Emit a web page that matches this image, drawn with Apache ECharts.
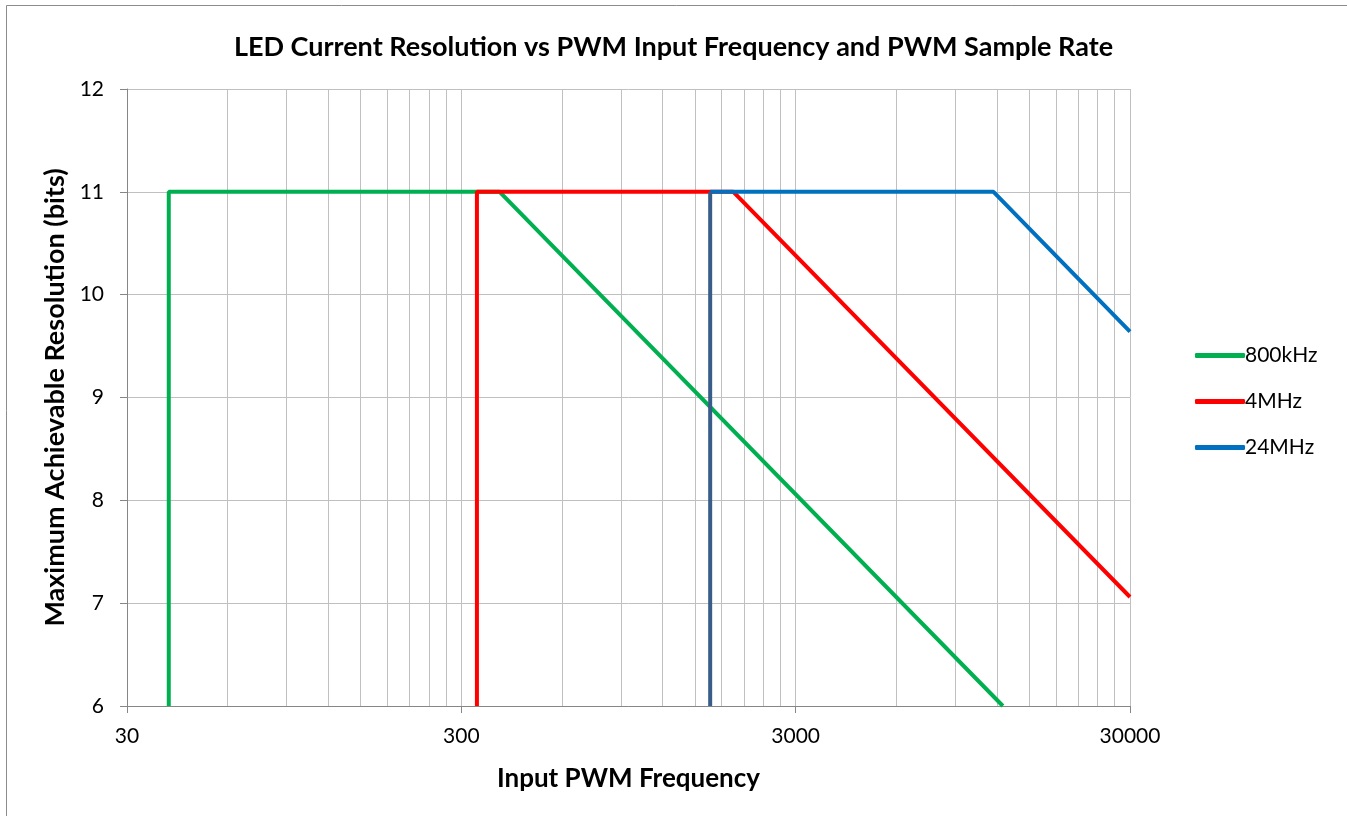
<!DOCTYPE html>
<html>
<head>
<meta charset="utf-8">
<script src="https://cdn.jsdelivr.net/npm/echarts@6/dist/echarts.min.js"></script>
<style>
  html, body { margin: 0; padding: 0; background: #fff; }
  #chart { width: 1347px; height: 816px; }
</style>
</head>
<body>
<div id="chart"></div>
<script>
// values
const xLabels = [30, 300, 3000, 30000];
const gridSteps = [1, 2, 3, 4, 5, 6, 7, 8, 9]; // minor grid multiples of each decade start

const green800k = [[40, 6], [40, 11], [390.6, 11], [12500, 6]];
const red4M = [[334, 6], [334, 11], [1953, 11], [30000, 7.06]];
const blue24M = [[1665, 11], [11719, 11], [30000, 9.64]];
const blueVertical = [[1665, 6], [1665, 11]];

const gridValues = [];
xLabels.forEach((start, i) => {
  if (i === xLabels.length - 1) { gridValues.push(start); return; }
  gridSteps.forEach((k) => gridValues.push(start * k));
});

const font = 'Lato, "Open Sans", sans-serif';
const gridColor = '#c0c0c0';
const axisColor = '#868686';

const chart = echarts.init(document.getElementById('chart'));

const lineSerie = (name, data, color) => ({
  name,
  type: 'line',
  data,
  xAxisIndex: 0,
  showSymbol: false,
  symbol: 'none',
  lineStyle: { width: 4, color },
  itemStyle: { color }
});

const chartOptions = {
  animation: false,
  textStyle: { fontFamily: font },
  title: {
    text: 'LED Current Resolution vs PWM Input Frequency and PWM Sample Rate',
    left: 'center',
    top: 29,
    textStyle: { fontFamily: font, fontSize: 27, fontWeight: 'bold', color: '#000' }
  },
  grid: { left: 127, right: 217, top: 89, bottom: 110 },
  legend: {
    orient: 'vertical',
    left: 1190,
    top: 340,
    itemWidth: 50,
    itemHeight: 5,
    itemGap: 25,
    icon: 'roundRect',
    data: ['800kHz', '4MHz', '24MHz'],
    textStyle: { fontFamily: font, fontSize: 21, color: '#000', padding: [0, 0, 0, -5] }
  },
  xAxis: [
    {
      type: 'log',
      logBase: 10,
      min: 30,
      max: 30000,
      axisLine: { show: false },
      axisTick: { show: false, customValues: gridValues },
      axisLabel: { show: false },
      splitLine: { show: true, lineStyle: { color: gridColor, width: 1 } }
    },
    {
      type: 'log',
      logBase: 10,
      min: 30,
      max: 30000,
      position: 'bottom',
      name: 'Input PWM Frequency',
      nameLocation: 'middle',
      nameGap: 60,
      nameTextStyle: { fontFamily: font, fontSize: 26, fontWeight: 'bold', color: '#000' },
      axisLine: { show: true, onZero: false, lineStyle: { color: axisColor, width: 1 } },
      axisTick: { show: true, length: 7, customValues: xLabels, lineStyle: { color: axisColor } },
      axisLabel: {
        show: true,
        customValues: xLabels,
        margin: 20,
        fontSize: 21,
        color: '#000',
        fontFamily: font,
        formatter: (v) => String(v)
      },
      splitLine: { show: false }
    }
  ],
  yAxis: {
    type: 'value',
    min: 6,
    max: 12,
    interval: 1,
    name: 'Maximum Achievable Resolution (bits)',
    nameLocation: 'middle',
    nameGap: 56,
    nameTextStyle: { fontFamily: font, fontSize: 27, fontWeight: 'bold', color: '#000' },
    axisLine: { show: true, lineStyle: { color: axisColor, width: 1 } },
    axisTick: { show: true, length: 7, lineStyle: { color: axisColor } },
    axisLabel: { margin: 23, fontSize: 21, color: '#000', fontFamily: font },
    splitLine: { show: true, lineStyle: { color: gridColor, width: 1 } }
  },
  graphic: [
    {
      type: 'polyline',
      shape: { points: [[6.5, 816], [6.5, 5.5], [1347, 5.5]] },
      style: { stroke: '#8c8c8c', lineWidth: 1, fill: null },
      silent: true
    }
  ],
  series: [
    lineSerie('800kHz', green800k, '#00b050'),
    lineSerie('4MHz', red4M, '#ff0000'),
    lineSerie('24MHz', blue24M, '#0070c0'),
    lineSerie('24MHz start', blueVertical, '#385d8a')
  ]
};

chart.setOption(chartOptions);
</script>
</body>
</html>
